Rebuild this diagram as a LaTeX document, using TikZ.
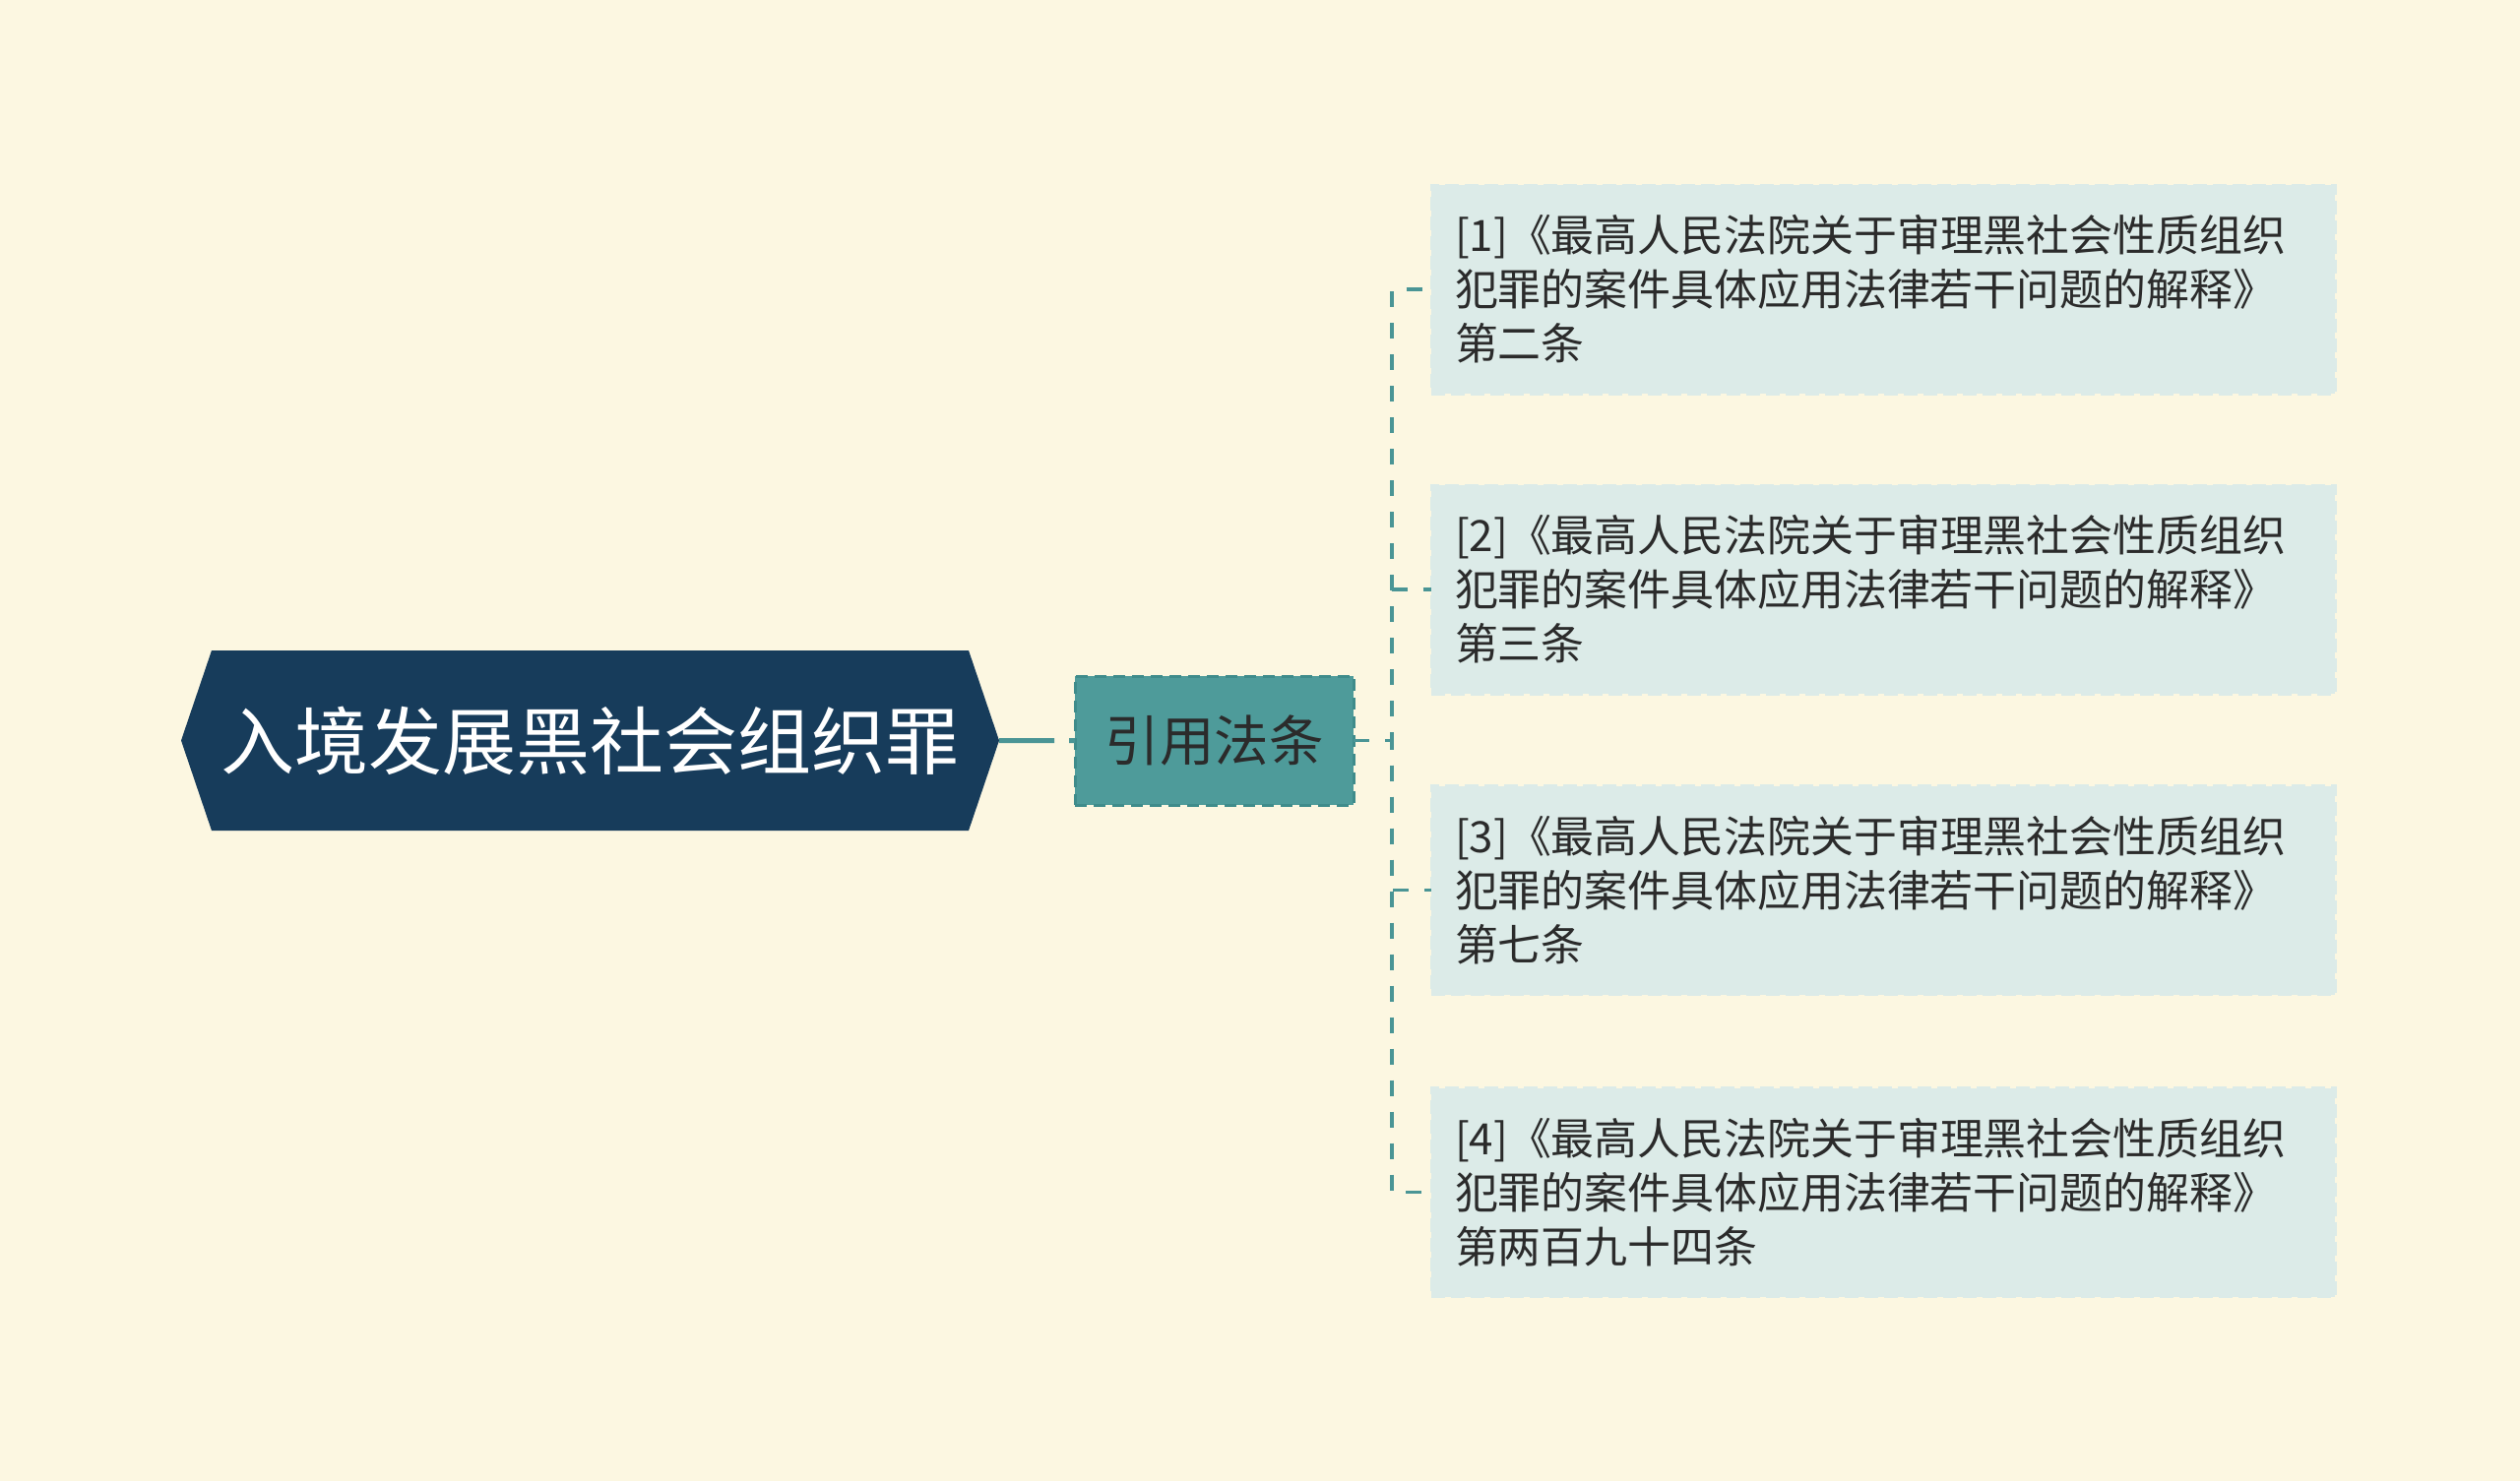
\documentclass[tikz,border=0pt]{standalone}
\usepackage{fontspec}
\setmainfont{Noto Sans CJK SC}
\usetikzlibrary{shapes.symbols}
\definecolor{bgcream}{HTML}{FCF7E1}
\definecolor{rootblue}{HTML}{173C5B}
\definecolor{lawteal}{HTML}{4E9B9A}
\definecolor{lawedge}{HTML}{3F8C8B}
\definecolor{itemfill}{HTML}{DCEBE8}
\definecolor{linkteal}{HTML}{4A9595}
\definecolor{inkgrey}{HTML}{2B2B2B}

\begin{document}
\begin{tikzpicture}[x=1pt,y=-1pt,inner sep=0pt,outer sep=0pt,
rootbox/.style={signal,signal to=west and east,signal pointer angle=142.6,fill=rootblue,text=white,minimum width=831pt,minimum height=183pt,font=\fontsize{75}{90}\selectfont},
lawbox/.style={draw=lawedge,fill=lawteal,line width=3pt,dash pattern=on 12pt off 7pt,text=inkgrey,minimum width=283pt,minimum height=131pt,font=\fontsize{55.5}{66}\selectfont},
itembox/.style={draw=itemfill,fill=itemfill,line width=3pt,dash pattern=on 14pt off 6pt,text=inkgrey,text width=870pt,align=left,inner xsep=24pt,minimum height=212pt,font=\fontsize{43.9}{55}\selectfont},
link/.style={draw=linkteal,line width=3.5pt,dash pattern=on 16pt off 16pt}]

\fill[bgcream] (0,0) rectangle (2560,1505);
\useasboundingbox (0,0) rectangle (2560,1505);

\draw (599.5,752.5) node[rootbox] (root) {入境发展黑社会组织罪};
\draw (1233.5,752.5) node[lawbox] (law) {引用法条};
\draw (1913,294) node[itembox] (item1) {[1]《最高人民法院关于审理黑社会性质组织\\犯罪的案件具体应用法律若干问题的解释》\\第二条};
\draw (1913,599) node[itembox] (item2) {[2]《最高人民法院关于审理黑社会性质组织\\犯罪的案件具体应用法律若干问题的解释》\\第三条};
\draw (1913,904.5) node[itembox] (item3) {[3]《最高人民法院关于审理黑社会性质组织\\犯罪的案件具体应用法律若干问题的解释》\\第七条};
\draw (1913,1211.5) node[itembox] (item4) {[4]《最高人民法院关于审理黑社会性质组织\\犯罪的案件具体应用法律若干问题的解释》\\第两百九十四条};

\draw[link,line width=5pt,dash pattern=on 56pt off 15pt] (root) -- (law);
\draw[link] (law.east) -- ++(39,0) |- (item1.west);
\draw[link] (law.east) -- ++(39,0) |- (item2.west);
\draw[link] (law.east) -- ++(39,0) |- (item3.west);
\draw[link] (law.east) -- ++(39,0) |- (item4.west);
\end{tikzpicture}
\end{document}
